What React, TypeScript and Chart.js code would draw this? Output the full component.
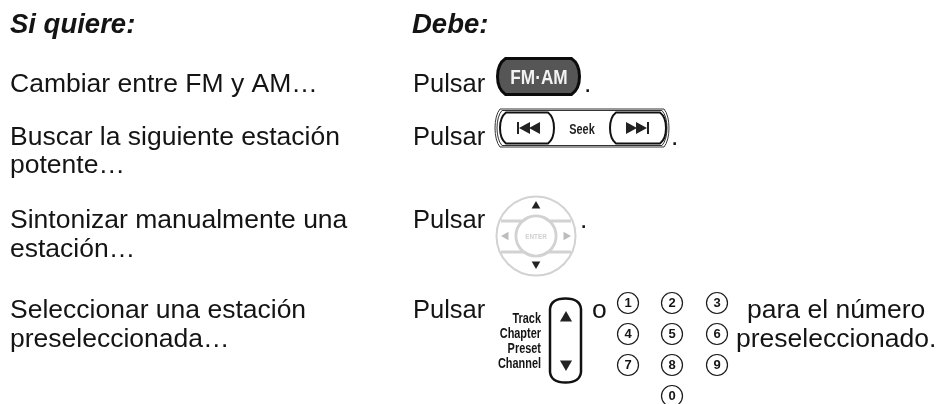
import React, { useEffect, useRef } from "react";
import { Chart, registerables } from "chart.js";

Chart.register(...registerables);

// Page content: [text, x, baseline y]
const headings: [string, number, number][] = [
  ["Si quiere:", 10, 33],
  ["Debe:", 412, 33],
];
const bodyTexts: [string, number, number][] = [
  ["Cambiar entre FM y AM…", 10, 92],
  ["Buscar la siguiente estación", 10, 145],
  ["potente…", 10, 173],
  ["Sintonizar manualmente una", 10, 228],
  ["estación…", 10, 257],
  ["Seleccionar una estación", 10, 318],
  ["preseleccionada…", 10, 347],
  [".", 584, 92],
  [".", 671, 145],
  [".", 580, 228],
  ["o", 592, 318],
  ["para el número", 747, 318],
  ["preseleccionado.", 736, 347],
];
const actionTexts: [string, number, number][] = [
  ["Pulsar", 413, 92],
  ["Pulsar", 413, 145],
  ["Pulsar", 413, 228],
  ["Pulsar", 413, 318],
];
const rockerTexts: [string, number, number][] = [
  ["Track", 541, 323],
  ["Chapter", 541, 338],
  ["Preset", 541, 353],
  ["Channel", 541, 368],
];

// Number keys
const keyLabels = ["1", "2", "3", "4", "5", "6", "7", "8", "9", "0"];
const keyX = [628, 672, 717, 628, 672, 717, 628, 672, 717, 672];
const keyY = [303, 303, 303, 334, 334, 334, 365, 365, 365, 396];

// Arrow marks
const arrowsUp = [{ x: 536, y: 206 }, { x: 566, y: 318 }];
const arrowsUpRadius = [5, 7];
const arrowsDown = [{ x: 536, y: 264 }, { x: 566, y: 364 }];
const arrowsDownRadius = [5, 7];
const arrowsSide = [{ x: 506, y: 236 }, { x: 566, y: 236 }];
const arrowsSideRotation = [-90, 90];

const FONT = '"Liberation Sans", Arial, sans-serif';
const INK = "#141414";

function barrel(ctx: CanvasRenderingContext2D, x0: number, y0: number, x1: number, y1: number, c: number) {
  const h = y1 - y0;
  const d = c / 0.75;
  ctx.beginPath();
  ctx.moveTo(x0 + c, y0);
  ctx.lineTo(x1 - c, y0);
  ctx.bezierCurveTo(x1 - c + d, y0 + h * 0.2, x1 - c + d, y1 - h * 0.2, x1 - c, y1);
  ctx.lineTo(x0 + c, y1);
  ctx.bezierCurveTo(x0 + c - d, y1 - h * 0.2, x0 + c - d, y0 + h * 0.2, x0 + c, y0);
  ctx.closePath();
}

function narrowText(ctx: CanvasRenderingContext2D, t: string, x: number, y: number, sx: number, align: CanvasTextAlign) {
  ctx.save();
  ctx.translate(x, y);
  ctx.scale(sx, 1);
  ctx.textAlign = align;
  ctx.fillText(t, 0, 0);
  ctx.restore();
}

function tri(ctx: CanvasRenderingContext2D, pts: number[]) {
  ctx.beginPath();
  ctx.moveTo(pts[0], pts[1]);
  for (let i = 2; i < pts.length; i += 2) ctx.lineTo(pts[i], pts[i + 1]);
  ctx.closePath();
  ctx.fill();
}

const pagePlugin = {
  id: "page",
  beforeDatasetsDraw(chart: any) {
    const ctx: CanvasRenderingContext2D = chart.ctx;
    const sx = (v: number) => chart.scales.x.getPixelForValue(v);
    const sy = (v: number) => chart.scales.y.getPixelForValue(v);
    ctx.save();
    // FM-AM key
    barrel(ctx, sx(497.5), sy(58.5), sx(579.5), sy(94.5), 8);
    ctx.fillStyle = "#565656";
    ctx.fill();
    ctx.strokeStyle = "#0c0c0c";
    ctx.lineWidth = 3;
    ctx.stroke();
    ctx.fillStyle = "#f2f2f2";
    ctx.font = `bold 21px ${FONT}`;
    ctx.textBaseline = "alphabetic";
    narrowText(ctx, "FM·AM", sx(539), sy(84), 0.82, "center");

    // Seek key
    ctx.strokeStyle = "#333";
    ctx.lineWidth = 1;
    barrel(ctx, sx(495), sy(109), sx(669), sy(147), 5);
    ctx.stroke();
    barrel(ctx, sx(497), sy(110.5), sx(667), sy(145.5), 5);
    ctx.stroke();
    ctx.strokeStyle = "#111";
    ctx.lineWidth = 2;
    ctx.fillStyle = "#fff";
    barrel(ctx, sx(500), sy(112.5), sx(554), sy(143.5), 6);
    ctx.fill();
    ctx.stroke();
    barrel(ctx, sx(610), sy(112.5), sx(666), sy(143.5), 6);
    ctx.fill();
    ctx.stroke();
    ctx.fillStyle = "#222";
    ctx.fillRect(sx(517), sy(122), 2, 12);
    tri(ctx, [sx(519), sy(128), sx(530), sy(122), sx(530), sy(134)]);
    tri(ctx, [sx(529), sy(128), sx(540), sy(122), sx(540), sy(134)]);
    tri(ctx, [sx(637), sy(128), sx(626), sy(122), sx(626), sy(134)]);
    tri(ctx, [sx(647), sy(128), sx(636), sy(122), sx(636), sy(134)]);
    ctx.fillRect(sx(647), sy(122), 2, 12);
    ctx.font = `bold 14px ${FONT}`;
    narrowText(ctx, "Seek", sx(582), sy(134), 0.78, "center");

    // Direction pad
    ctx.strokeStyle = "#d2d2d2";
    ctx.lineWidth = 2;
    ctx.beginPath();
    ctx.arc(sx(536), sy(236), 39.5, 0, Math.PI * 2);
    ctx.stroke();
    ctx.lineWidth = 3;
    ctx.beginPath();
    ctx.arc(sx(536), sy(236), 20, 0, Math.PI * 2);
    ctx.stroke();
    ctx.beginPath();
    ctx.moveTo(sx(501), sy(221));
    ctx.lineTo(sx(571), sy(221));
    ctx.moveTo(sx(501), sy(252));
    ctx.lineTo(sx(571), sy(252));
    ctx.stroke();
    ctx.fillStyle = "#fff";
    ctx.beginPath();
    ctx.arc(sx(536), sy(236), 18.5, 0, Math.PI * 2);
    ctx.fill();
    ctx.fillStyle = "#d0d0d0";
    ctx.font = `bold 7px ${FONT}`;
    narrowText(ctx, "ENTER", sx(536), sy(239), 0.9, "center");

    // Track rocker
    ctx.strokeStyle = "#111";
    ctx.lineWidth = 2.5;
    ctx.beginPath();
    ctx.moveTo(sx(550), sy(309));
    ctx.quadraticCurveTo(sx(551), sy(298.5), sx(565.5), sy(298.5));
    ctx.quadraticCurveTo(sx(580), sy(298.5), sx(581), sy(309));
    ctx.lineTo(sx(581), sy(372));
    ctx.quadraticCurveTo(sx(580), sy(382.5), sx(565.5), sy(382.5));
    ctx.quadraticCurveTo(sx(551), sy(382.5), sx(550), sy(372));
    ctx.closePath();
    ctx.stroke();

    // Page text
    ctx.fillStyle = INK;
    ctx.textAlign = "left";
    ctx.font = `italic bold 27.5px ${FONT}`;
    headings.forEach(([t, x, y]) => ctx.fillText(t, sx(x), sy(y)));
    ctx.font = `26.5px ${FONT}`;
    bodyTexts.forEach(([t, x, y]) => ctx.fillText(t, sx(x), sy(y)));
    ctx.font = `25.5px ${FONT}`;
    actionTexts.forEach(([t, x, y]) => ctx.fillText(t, sx(x), sy(y)));
    ctx.font = `bold 14px ${FONT}`;
    rockerTexts.forEach(([t, x, y]) => narrowText(ctx, t, sx(x), sy(y), 0.78, "right"));
    ctx.restore();
  },
  afterDatasetsDraw(chart: any) {
    const ctx: CanvasRenderingContext2D = chart.ctx;
    const sx = (v: number) => chart.scales.x.getPixelForValue(v);
    const sy = (v: number) => chart.scales.y.getPixelForValue(v);
    ctx.save();
    ctx.fillStyle = INK;
    ctx.font = `bold 13px ${FONT}`;
    ctx.textAlign = "center";
    ctx.textBaseline = "middle";
    keyLabels.forEach((t, i) => ctx.fillText(t, sx(keyX[i]), sy(keyY[i]) + 0.5));
    ctx.restore();
  },
};

export default function App() {
  const ref = useRef<HTMLCanvasElement>(null);
  useEffect(() => {
    const chart = new Chart(ref.current!, {
      type: "scatter",
      data: {
        datasets: [
          {
            label: "Teclas",
            data: keyX.map((x, i) => ({ x, y: keyY[i] })),
            pointStyle: "circle",
            pointRadius: 10.5,
            pointBorderWidth: 1.2,
            pointBorderColor: "#1a1a1a",
            pointBackgroundColor: "#fff",
          },
          {
            label: "Arriba",
            data: arrowsUp,
            pointStyle: "triangle",
            pointRadius: arrowsUpRadius,
            pointBorderWidth: 0,
            pointBackgroundColor: "#222",
          },
          {
            label: "Abajo",
            data: arrowsDown,
            pointStyle: "triangle",
            rotation: 180,
            pointRadius: arrowsDownRadius,
            pointBorderWidth: 0,
            pointBackgroundColor: "#222",
          },
          {
            label: "Lados",
            data: arrowsSide,
            pointStyle: "triangle",
            rotation: arrowsSideRotation,
            pointRadius: 5,
            pointBorderWidth: 0,
            pointBackgroundColor: "#bdbdbd",
          },
        ] as any,
      },
      plugins: [pagePlugin],
      options: {
        animation: false,
        responsive: false,
        layout: { padding: 0, autoPadding: false },
        clip: false,
        plugins: { legend: { display: false }, tooltip: { enabled: false } },
        scales: {
          x: { type: "linear", display: false, min: 0, max: 939 },
          y: { type: "linear", display: false, min: 0, max: 404, reverse: true },
        },
      },
    });
    return () => chart.destroy();
  }, []);
  return (
    <div style={{ position: "absolute", left: 0, top: 0, width: 939, height: 404, background: "#fff" }}>
      <canvas ref={ref} width={939} height={404} style={{ display: "block" }} />
    </div>
  );
}
